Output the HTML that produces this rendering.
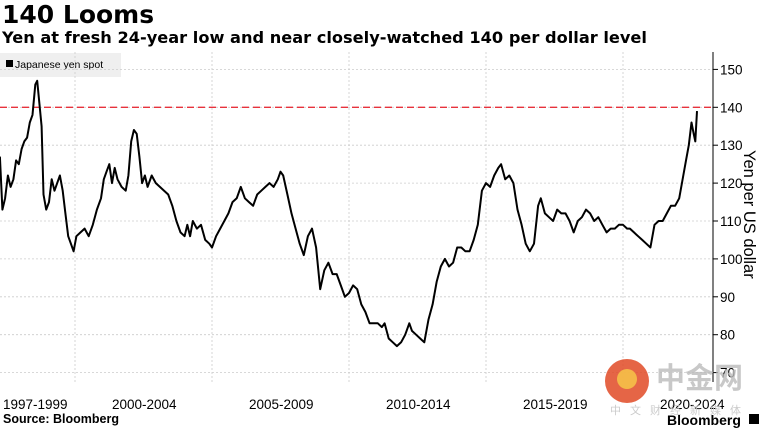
<!DOCTYPE html>
<html><head><meta charset="utf-8"><style>
body{margin:0;width:763px;height:429px;background:#fff;overflow:hidden;font-family:"Liberation Sans","Noto Sans CJK SC",sans-serif;position:relative}
.t{position:absolute;left:2px;top:0px;font-family:"DejaVu Sans",sans-serif;font-size:25px;font-weight:bold;color:#000}
.s{position:absolute;left:2px;top:28px;font-family:"DejaVu Sans",sans-serif;font-size:16.2px;font-weight:bold;color:#000}
.src{position:absolute;left:3px;top:412px;font-size:12.5px;font-weight:bold}
</style></head><body>
<div class="t">140 Looms</div>
<div class="s">Yen at fresh 24-year low and near closely-watched 140 per dollar level</div>
<div class="src">Source: Bloomberg</div>
<svg id="c" width="763" height="429" style="position:absolute;left:0;top:0"></svg>
<script>
const yTicks=[70,80,90,100,110,120,130,140,150];
const xLabels=["1997-1999","2000-2004","2005-2009","2010-2014","2015-2019","2020-2024"];
const xLabelYears=[1997,2000,2005,2010,2015,2020];
const gridYears=[2000,2005,2010,2015,2020];
const refLevel=140;
const years=[
1997.26,1997.35,1997.45,1997.55,1997.65,1997.75,1997.85,1997.95,
1998.05,1998.15,1998.25,1998.35,1998.45,1998.55,1998.62,1998.7,1998.78,1998.85,1998.95,
1999.05,1999.15,1999.25,1999.35,1999.45,1999.55,1999.65,1999.75,1999.85,1999.95,
2000.05,2000.2,2000.35,2000.5,2000.65,2000.8,2000.95,
2001.05,2001.15,2001.25,2001.35,2001.45,2001.55,2001.7,2001.85,2001.95,
2002.05,2002.15,2002.25,2002.35,2002.45,2002.55,2002.65,2002.8,2002.95,
2003.1,2003.25,2003.4,2003.55,2003.7,2003.85,
2004.0,2004.1,2004.2,2004.3,2004.45,2004.6,2004.75,2004.9,
2005.0,2005.15,2005.3,2005.45,2005.6,2005.75,2005.9,
2006.05,2006.2,2006.35,2006.5,2006.65,2006.8,2006.95,
2007.1,2007.25,2007.4,2007.5,2007.6,2007.75,2007.9,
2008.05,2008.2,2008.35,2008.5,2008.65,2008.8,2008.95,
2009.1,2009.25,2009.4,2009.55,2009.7,2009.85,
2010.0,2010.15,2010.3,2010.45,2010.6,2010.75,2010.9,
2011.05,2011.2,2011.3,2011.45,2011.6,2011.75,2011.9,
2012.05,2012.2,2012.3,2012.45,2012.6,2012.75,2012.9,
2013.05,2013.2,2013.35,2013.5,2013.65,2013.8,2013.95,
2014.1,2014.25,2014.4,2014.55,2014.7,2014.85,
2015.0,2015.15,2015.3,2015.45,2015.55,2015.7,2015.85,
2016.0,2016.15,2016.3,2016.45,2016.6,2016.75,2016.9,
2017.0,2017.15,2017.3,2017.45,2017.6,2017.75,2017.9,
2018.05,2018.2,2018.35,2018.5,2018.65,2018.8,2018.95,
2019.1,2019.25,2019.4,2019.55,2019.7,2019.85,
2020.0,2020.15,2020.25,2020.4,2020.55,2020.7,2020.85,
2021.0,2021.15,2021.3,2021.45,2021.6,2021.75,2021.9,
2022.05,2022.2,2022.3,2022.4,2022.5,2022.58,2022.64,2022.7];
const values=[
127,113,116,122,119,121,126,125,
129,131,132,136,138,146,147,141,135,117,113,
115,121,118,120,122,118,112,106,104,102,
106,107,108,106,109,113,116,
121,123,125,120,124,121,119,118,122,
131,134,133,127,120,122,119,122,120,
119,118,117,114,110,107,
106,109,106,110,108,109,105,104,
103,106,108,110,112,115,116,
119,116,115,114,117,118,119,
120,119,121,123,122,117,112,
108,104,101,106,108,103,92,
97,99,96,96,93,90,
91,93,92,88,86,83,83,
83,82,83,79,78,77,78,
80,83,81,80,79,78,84,
88,94,98,100,98,99,103,
103,102,102,105,109,118,
120,119,122,124,125,121,122,
120,113,109,104,102,104,114,
116,112,111,110,113,112,112,
110,107,110,111,113,112,110,
111,109,107,108,108,109,
109,108,108,107,106,105,104,
103,109,110,110,112,114,114,
116,122,126,130,136,133,131,139];
const X0=75,PX=27.4,Y140=107.3,PY=3.79;
const xs=y=>X0+(y-2000)*PX, ys=v=>Y140+(140-v)*PY;
const svg=document.getElementById('c');const NS='http://www.w3.org/2000/svg';
function mk(t,a){const e=document.createElementNS(NS,t);for(const k in a)e.setAttribute(k,a[k]);svg.appendChild(e);return e;}
const leg=mk('rect',{x:0,y:53,width:121,height:24,fill:'#efefef'});


const lm=mk('rect',{x:6,y:60,width:7,height:7,fill:'#000'});


const lt=mk('text',{x:15,y:68,'font-size':10.5,fill:'#000'});lt.textContent='Japanese yen spot';


yTicks.forEach(v=>{const y=ys(v);
 const g=mk('line',{x1:0,x2:713,y1:y,y2:y,stroke:'#ccc','stroke-dasharray':'2,2','stroke-width':0.8});
 
 
 mk('line',{x1:713,x2:718,y1:y,y2:y,stroke:'#000'});
 const t=mk('text',{x:720,y:y+5,'font-size':13.5,fill:'#000'});t.textContent=v;
 
 });
gridYears.forEach(yr=>{const x=xs(yr);
 const g=mk('line',{x1:x,x2:x,y1:52,y2:382,stroke:'#ccc','stroke-dasharray':'2,2','stroke-width':0.8});
 
 });
const ax=mk('line',{x1:713,x2:713,y1:52,y2:382,stroke:'#000'});


xLabels.forEach((l,i)=>{const t=mk('text',{x:Math.max(3,xs(xLabelYears[i])+ (i==0?0:37)),y:409,'font-size':13.5,fill:'#000'});t.textContent=l;
 
 });
const ref=mk('line',{x1:0,x2:713,y1:ys(refLevel),y2:ys(refLevel),stroke:'#e8323c','stroke-dasharray':'7,4','stroke-width':1.3});


const d=years.map((y,i)=>(i?'L':'M')+xs(y).toFixed(1)+','+ys(values[i]).toFixed(1)).join(' ');
const p=mk('path',{d:d,fill:'none',stroke:'#000','stroke-width':2,'stroke-linejoin':'round'});


const yt=mk('text',{x:0,y:0,'font-size':16.5,fill:'#000',transform:'translate(744,150) rotate(90)'});yt.textContent='Yen per US dollar';


const lg=mk('circle',{cx:627,cy:381,r:22,fill:'#e04a26',opacity:0.85});


mk('circle',{cx:627,cy:379,r:10,fill:'#f5c048',opacity:0.9});
const wm=mk('text',{x:656,y:388,'font-size':29,'font-weight':'bold',fill:'#bbb',opacity:0.8});wm.textContent='中金网';


const wm2=mk('text',{x:610,y:414,'font-size':11,fill:'#ccc','letter-spacing':'9'});wm2.textContent='中文财经新媒体';


const bb=mk('text',{x:667,y:425,'font-size':14,'font-weight':'bold',fill:'#000'});bb.textContent='Bloomberg';


mk('rect',{x:749,y:414,width:10,height:10,fill:'#000'});
</script>
</body></html>
